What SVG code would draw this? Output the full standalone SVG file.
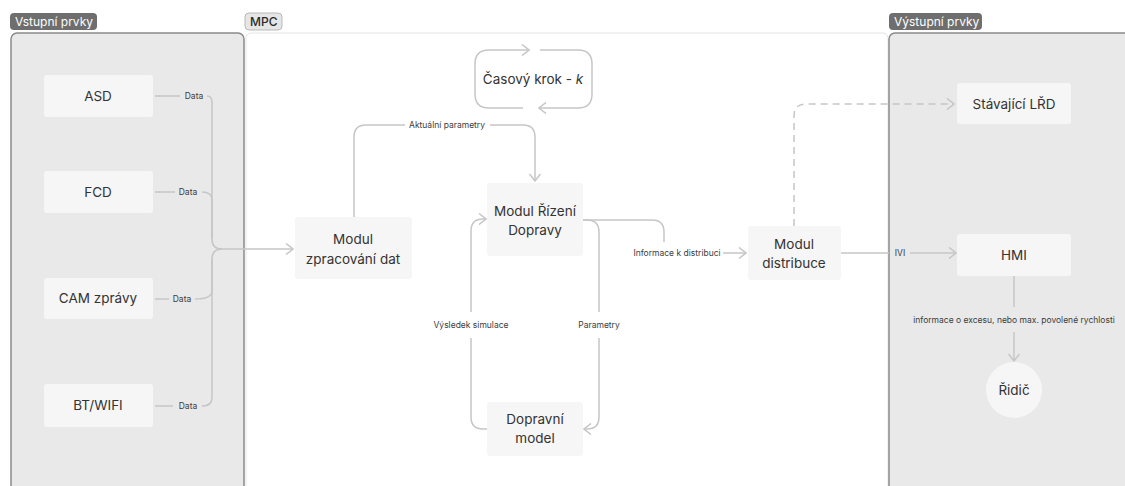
<svg xmlns="http://www.w3.org/2000/svg" width="1125" height="486" viewBox="0 0 1125 486">
  <defs>
    <style>
      .panel { fill: #e9e9e9; stroke: #8a8a8a; stroke-width: 1.5; }
      .frame { fill: #ffffff; stroke: #e4e4e4; stroke-width: 1; }
      .node { fill: #f6f6f6; }
      .pill-dark { fill: #6e6e6e; }
      .pill-light { fill: #e6e6e6; stroke: #b9b9b9; stroke-width: 1; }
      .t { font-family: Inter, "Noto Sans", "Liberation Sans", sans-serif; fill: #333333; text-anchor: middle; }
      .nt { font-size: 13.5px; }
      .lt { font-size: 8.5px; fill: #3c3c3c; }
      .pt { font-size: 12px; fill: #ffffff; text-anchor: start; }
      .ptd { font-size: 12px; fill: #2a2a2a; font-weight: 500; text-anchor: start; }
      .c { fill: none; stroke: #c6c6c6; stroke-width: 1.5; }
      .dash { stroke-dasharray: 7 5; }
    </style>
    <marker id="arr" viewBox="0 0 10 12" refX="9" refY="6" markerWidth="10" markerHeight="12" markerUnits="userSpaceOnUse" orient="auto">
      <path d="M2,0.5 L9,6 L2,11.5" fill="none" stroke="#c6c6c6" stroke-width="1.5"/>
    </marker>
  </defs>

  <!-- background areas -->
  <rect x="0" y="0" width="1125" height="486" fill="#ffffff"/>
  <rect class="frame" x="246" y="33" width="642" height="470" rx="5"/>
  <rect class="panel" x="11" y="33" width="233" height="470" rx="6"/>
  <rect class="panel" x="889" y="33" width="250" height="470" rx="6"/>

  <!-- section labels -->
  <g id="label-vstupni">
    <rect class="pill-dark" x="10" y="13" width="87" height="17" rx="4"/>
    <text class="t pt" x="15" y="26">Vstupní prvky</text>
  </g>
  <g id="label-mpc">
    <rect class="pill-light" x="245" y="13" width="37" height="17" rx="4"/>
    <text class="t ptd" x="250" y="26">MPC</text>
  </g>
  <g id="label-vystupni">
    <rect class="pill-dark" x="889" y="13" width="93" height="17" rx="4"/>
    <text class="t pt" x="894" y="26">Výstupní prvky</text>
  </g>

  <!-- connectors -->
  <g id="connectors">
    <!-- inputs into the data bus -->
    <path class="c" d="M155,96 H180"/>
    <path class="c" d="M207,96 Q212,96 212,102 V239 Q212,249 222,249"/>
    <path class="c" d="M155,192 H175"/>
    <path class="c" d="M202,192 Q212,192 212,200 V239"/>
    <path class="c" d="M155,299 H169"/>
    <path class="c" d="M195,299 Q212,299 212,291 V259 Q212,249 222,249"/>
    <path class="c" d="M155,406 H173"/>
    <path class="c" d="M202,406 Q212,406 212,398 V259"/>
    <path class="c" d="M222,249 H293" marker-end="url(#arr)"/>

    <!-- Aktuální parametry -->
    <path class="c" d="M354,217 V137 Q354,125 366,125 H405"/>
    <path class="c" d="M490,125 H523 Q535,125 535,137 V181" marker-end="url(#arr)"/>

    <!-- time step loop -->
    <path class="c" d="M523,108 H489 Q475,108 475,94 V64 Q475,50 489,50 H529" marker-end="url(#arr)"/>
    <path class="c" d="M540,50 H578 Q592,50 592,64 V94 Q592,108 578,108 H539" marker-end="url(#arr)"/>

    <!-- Výsledek simulace -->
    <path class="c" d="M487,429 H483 Q471,429 471,417 V338"/>
    <path class="c" d="M471,312 V231 Q471,219 483,219 H486" marker-end="url(#arr)"/>

    <!-- Parametry -->
    <path class="c" d="M583,220 H587 Q599,220 599,232 V312"/>
    <path class="c" d="M599,338 V417 Q599,429 587,429 H584" marker-end="url(#arr)"/>

    <!-- Informace k distribuci -->
    <path class="c" d="M583,220 H652 Q664,220 664,232 V242"/>
    <path class="c" d="M723,253 H746" marker-end="url(#arr)"/>

    <!-- to Stávající LŘD -->
    <path class="c dash" d="M794,226 V116 Q794,104 806,104 H954" marker-end="url(#arr)"/>

    <!-- IVI -->
    <path class="c" d="M841,253 H889"/>
    <path class="c" d="M910,253 H956" marker-end="url(#arr)"/>

    <!-- HMI to Řidič -->
    <path class="c" d="M1014,276 V307"/>
    <path class="c" d="M1014,332 V361" marker-end="url(#arr)"/>
  </g>

  <!-- connector labels -->
  <g id="connector-labels">
    <text class="t lt" x="194" y="99">Data</text>
    <text class="t lt" x="188" y="195">Data</text>
    <text class="t lt" x="182" y="302">Data</text>
    <text class="t lt" x="188" y="409">Data</text>
    <text class="t lt" x="447" y="128">Aktuální parametry</text>
    <text class="t lt" x="471" y="328">Výsledek simulace</text>
    <text class="t lt" x="599" y="328">Parametry</text>
    <text class="t lt" x="677" y="256">Informace k distribuci</text>
    <text class="t lt" x="900" y="256">IVI</text>
    <text class="t lt" x="1014" y="323">informace o excesu, nebo max. povolené rychlosti</text>
  </g>

  <!-- input nodes -->
  <g id="asd">
    <rect class="node" x="44" y="75" width="109" height="42" rx="3"/>
    <text class="t nt" x="98" y="101">ASD</text>
  </g>
  <g id="fcd">
    <rect class="node" x="44" y="171" width="109" height="42" rx="3"/>
    <text class="t nt" x="98" y="197">FCD</text>
  </g>
  <g id="cam">
    <rect class="node" x="44" y="278" width="109" height="41" rx="3"/>
    <text class="t nt" x="98" y="303">CAM zprávy</text>
  </g>
  <g id="bt-wifi">
    <rect class="node" x="44" y="384" width="109" height="43" rx="3"/>
    <text class="t nt" x="98" y="410">BT/WIFI</text>
  </g>

  <!-- MPC nodes -->
  <g id="casovy-krok">
    <text class="t nt" x="533" y="84">Časový krok - <tspan font-style="italic">k</tspan></text>
  </g>
  <g id="modul-zpracovani">
    <rect class="node" x="295" y="217" width="117" height="62" rx="3"/>
    <text class="t nt" x="353" y="244">Modul</text>
    <text class="t nt" x="353" y="264">zpracování dat</text>
  </g>
  <g id="modul-rizeni">
    <rect class="node" x="487" y="183" width="96" height="73" rx="3"/>
    <text class="t nt" x="535" y="216">Modul Řízení</text>
    <text class="t nt" x="535" y="235">Dopravy</text>
  </g>
  <g id="dopravni-model">
    <rect class="node" x="487" y="402" width="96" height="54" rx="3"/>
    <text class="t nt" x="535" y="424">Dopravní</text>
    <text class="t nt" x="535" y="443">model</text>
  </g>
  <g id="modul-distribuce">
    <rect class="node" x="748" y="226" width="93" height="54" rx="3"/>
    <text class="t nt" x="794" y="249">Modul</text>
    <text class="t nt" x="794" y="268">distribuce</text>
  </g>

  <!-- output nodes -->
  <g id="stavajici-lrd">
    <rect class="node" x="957" y="83" width="114" height="41" rx="3"/>
    <text class="t nt" x="1014" y="109">Stávající LŘD</text>
  </g>
  <g id="hmi">
    <rect class="node" x="957" y="234" width="114" height="42" rx="3"/>
    <text class="t nt" x="1014" y="260">HMI</text>
  </g>
  <g id="ridic">
    <circle class="node" cx="1014" cy="390" r="28"/>
    <text class="t nt" x="1014" y="395">Řidič</text>
  </g>
</svg>
